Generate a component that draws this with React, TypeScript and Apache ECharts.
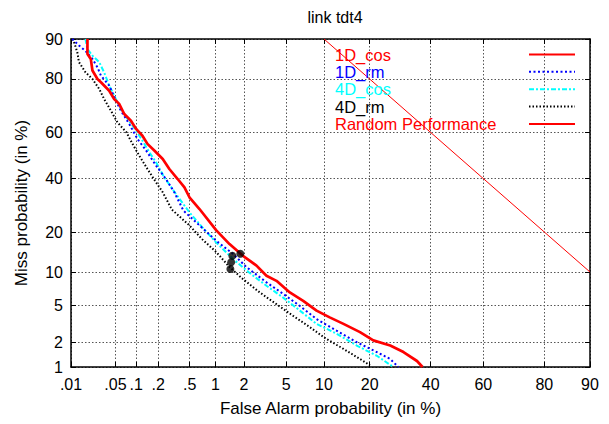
import React, { useEffect, useRef } from 'react';
import * as echarts from 'echarts';

const chartTitle = 'link tdt4';
const xName = 'False Alarm probability (in %)';
const yName = 'Miss probability (in %)';
const xTicks = [0.01, 0.05, 0.1, 0.2, 0.5, 1, 2, 5, 10, 20, 40, 60, 80, 90];
const xTickLabels = ['.01', '.05', '.1', '.2', '.5', '1', '2', '5', '10', '20', '40', '60', '80', '90'];
const yTicks = [1, 2, 5, 10, 20, 40, 60, 80, 90];
const yTickLabels = ['1', '2', '5', '10', '20', '40', '60', '80', '90'];
const xRange = [0.01, 90];
const yRange = [1, 90];

const seriesNames = ['1D_cos', '1D_rm', '4D_cos', '4D_rm', 'Random Performance'];
const seriesColors = ['#ff0000', '#0000ff', '#00ffff', '#000000', '#ff0000'];

// [false alarm %, miss %]
const cos1D: number[][] = [
  [0.0185, 90], [0.0185, 86.8], [0.0209, 85.6], [0.0222, 82.5], [0.0266, 80.0], [0.0301, 79.0],
  [0.0403, 76.2], [0.0478, 73.3], [0.0567, 71.5], [0.0673, 67.6], [0.084, 64.9], [0.0995, 61.5],
  [0.122, 58.6], [0.143, 55.1], [0.177, 52.2], [0.229, 48.5], [0.279, 44.1], [0.356, 39.8],
  [0.432, 36.3], [0.497, 32.3], [0.655, 27.8], [1.02, 20.5], [1.42, 16.5], [1.96, 13.5],
  [2.67, 11.3], [3.32, 9.3], [4.1, 8.4], [5.36, 6.6], [6.92, 5.5], [8.8, 4.4], [11.0, 3.75],
  [13.7, 3.2], [17.5, 2.6], [21.0, 2.1], [26.0, 1.83], [30.3, 1.53], [35.0, 1.19], [37.0, 1.0],
];
const rm1D: number[][] = [
  [0.0105, 90], [0.0135, 88.7], [0.0172, 87.5], [0.0222, 85.6], [0.0266, 83.4], [0.0301, 81.0],
  [0.0403, 77.9], [0.0508, 72.7], [0.06, 68.9], [0.0794, 63.6], [0.104, 57.2], [0.137, 52.2],
  [0.187, 45.6], [0.252, 39.8], [0.323, 34.3], [0.42, 27.2], [0.655, 22.1], [1.02, 17.4],
  [1.54, 14.0], [2.12, 11.0], [3.32, 8.15], [4.7, 6.4], [6.5, 4.9], [8.8, 3.6], [12.3, 2.7],
  [16.7, 2.0], [22.0, 1.53], [26.0, 1.26], [28.6, 1.0],
];
const cos4D: number[][] = [
  [0.0172, 90], [0.0185, 87.9], [0.0222, 86.4], [0.0283, 84.8], [0.0337, 82.0], [0.0403, 77.9],
  [0.0478, 74.5], [0.06, 69.6], [0.0752, 65.6], [0.0995, 60.8], [0.122, 56.5], [0.151, 51.5],
  [0.187, 47.0], [0.24, 40.5], [0.34, 33.5], [0.497, 26.6], [0.7, 21.6], [1.02, 16.9],
  [1.54, 12.8], [2.29, 9.8], [3.32, 7.6], [4.7, 5.9], [6.5, 4.4], [8.8, 3.2], [12.3, 2.5],
  [16.7, 1.83], [22.0, 1.38], [27.0, 1.0],
];
const rm4D: number[][] = [
  [0.0105, 90], [0.0112, 89.4], [0.0127, 87.2], [0.0135, 84.8], [0.0172, 82.0], [0.0222, 80.0],
  [0.0283, 76.8], [0.0337, 73.3], [0.0427, 68.9], [0.0535, 64.2], [0.0723, 60.1], [0.0884, 55.1],
  [0.11, 50.0], [0.143, 44.1], [0.187, 38.4], [0.229, 34.3], [0.3, 27.6], [0.497, 22.1],
  [0.7, 17.9], [1.02, 14.4], [1.42, 11.0], [1.96, 8.7], [2.87, 6.6], [4.1, 5.1], [5.7, 3.9],
  [7.82, 2.95], [10.4, 2.18], [13.7, 1.67], [17.5, 1.26], [20.1, 1.05],
];
const randomPerf: number[][] = [[10, 90], [90, 10]];
const minCostPoints: number[][] = [[1.84, 14.0], [1.52, 13.5], [1.48, 12.0], [1.45, 10.6]];

// inverse standard normal CDF (Acklam)
function probit(p: number): number {
  const a = [-3.969683028665376e1, 2.209460984245205e2, -2.759285104469687e2, 1.38357751867269e2, -3.066479806614716e1, 2.506628277459239];
  const b = [-5.447609879822406e1, 1.615858368580409e2, -1.556989798598866e2, 6.680131188771972e1, -1.328068155288572e1];
  const c = [-7.784894002430293e-3, -3.223964580411365e-1, -2.400758277161838, -2.549732539343734, 4.374664141464968, 2.938163982698783];
  const d = [7.784695709041462e-3, 3.224671290700398e-1, 2.445134137142996, 3.754408661907416];
  const pl = 0.02425;
  let q: number, r: number;
  if (p < pl) {
    q = Math.sqrt(-2 * Math.log(p));
    return (((((c[0] * q + c[1]) * q + c[2]) * q + c[3]) * q + c[4]) * q + c[5]) / ((((d[0] * q + d[1]) * q + d[2]) * q + d[3]) * q + 1);
  }
  if (p <= 1 - pl) {
    q = p - 0.5;
    r = q * q;
    return (((((a[0] * r + a[1]) * r + a[2]) * r + a[3]) * r + a[4]) * r + a[5]) * q / (((((b[0] * r + b[1]) * r + b[2]) * r + b[3]) * r + b[4]) * r + 1);
  }
  q = Math.sqrt(-2 * Math.log(1 - p));
  return -(((((c[0] * q + c[1]) * q + c[2]) * q + c[3]) * q + c[4]) * q + c[5]) / ((((d[0] * q + d[1]) * q + d[2]) * q + d[3]) * q + 1);
}
const pct = (v: number) => probit(v / 100);
const toPlot = (arr: number[][]) => arr.map(([fa, miss]) => [pct(fa), pct(miss)]);

const FONT = 'Liberation Sans, Arial, Helvetica, sans-serif';

function labelFor(ticks: number[], labels: string[]) {
  const pos = ticks.map(pct);
  return (v: number) => {
    let best = 0;
    for (let i = 1; i < pos.length; i++) if (Math.abs(pos[i] - v) < Math.abs(pos[best] - v)) best = i;
    return labels[best];
  };
}

export default function App() {
  const ref = useRef<HTMLDivElement>(null);
  useEffect(() => {
    document.body.style.margin = '0';
    if (!ref.current) return;
    const chart = echarts.init(ref.current, undefined, { renderer: 'svg' });
    const xPos = xTicks.map(pct);
    const yPos = yTicks.map(pct);
    const gridLine = { show: true, lineStyle: { color: '#555', width: 1, type: [1.5, 2] as any } };
    const frame = { show: true, onZero: false, lineStyle: { color: '#000', width: 1.5 } };
    const tick = (vals: number[]) => ({ show: true, inside: true, length: 5, customValues: vals, lineStyle: { color: '#000', width: 1 } });
    const lineStyles: any[] = [
      { color: seriesColors[0], width: 2.7, type: 'solid' },
      { color: seriesColors[1], width: 2, type: [2, 2.5] },
      { color: seriesColors[2], width: 2, type: [5, 2, 2, 2] },
      { color: seriesColors[3], width: 2, type: [1.5, 2] },
      { color: seriesColors[4], width: 1, type: 'solid' },
    ];
    const dataSets = [cos1D, rm1D, cos4D, rm4D, randomPerf];
    const rich: Record<string, any> = {};
    seriesNames.forEach((_, i) => {
      rich['c' + i] = { color: seriesColors[i], align: 'left', fontFamily: FONT, fontSize: 16.5, lineHeight: 15 };
    });
    chart.setOption({
      animation: false,
      backgroundColor: '#fff',
      title: {
        text: chartTitle,
        left: 330,
        textAlign: 'center',
        top: 4,
        textStyle: { fontFamily: FONT, fontSize: 16, fontWeight: 'normal', color: '#000' },
      },
      grid: { left: 71, right: 19, top: 39, bottom: 57, containLabel: false },
      legend: {
        orient: 'vertical',
        left: 330,
        top: 41,
        align: 'right',
        itemWidth: 46,
        itemHeight: 10,
        itemGap: 0.35,
        itemStyle: { opacity: 0, borderWidth: 0 },
        formatter: (name: string) => `{c${seriesNames.indexOf(name)}|${name}}`,
        textStyle: { fontFamily: FONT, fontSize: 16.5, width: 189, lineHeight: 15, rich },
        data: seriesNames,
      },
      xAxis: [
        {
          type: 'value',
          position: 'bottom',
          min: pct(xRange[0]),
          max: pct(xRange[1]),
          name: xName,
          nameLocation: 'middle',
          nameGap: 33,
          nameTextStyle: { fontFamily: FONT, fontSize: 17, color: '#000' },
          axisLine: frame,
          axisTick: tick(xPos),
          axisLabel: { customValues: xPos, formatter: labelFor(xTicks, xTickLabels), margin: 9, fontFamily: FONT, fontSize: 16, color: '#000' },
          splitLine: gridLine,
        },
        {
          type: 'value',
          position: 'top',
          min: pct(xRange[0]),
          max: pct(xRange[1]),
          axisLine: frame,
          axisTick: tick(xPos),
          axisLabel: { show: false },
          splitLine: { show: false },
        },
      ],
      yAxis: [
        {
          type: 'value',
          position: 'left',
          min: pct(yRange[0]),
          max: pct(yRange[1]),
          name: yName,
          nameLocation: 'middle',
          nameGap: 41,
          nameTextStyle: { fontFamily: FONT, fontSize: 17, color: '#000' },
          axisLine: frame,
          axisTick: tick(yPos),
          axisLabel: { customValues: yPos, formatter: labelFor(yTicks, yTickLabels), margin: 8, fontFamily: FONT, fontSize: 16, color: '#000' },
          splitLine: gridLine,
        },
        {
          type: 'value',
          position: 'right',
          min: pct(yRange[0]),
          max: pct(yRange[1]),
          axisLine: frame,
          axisTick: tick(yPos),
          axisLabel: { show: false },
          splitLine: { show: false },
        },
      ],
      series: [
        ...dataSets.map((ds, i) => ({
          name: seriesNames[i],
          type: 'line',
          data: toPlot(ds),
          symbol: 'none',
          showSymbol: false,
          clip: true,
          lineStyle: lineStyles[i],
          itemStyle: { color: seriesColors[i] },
          z: 5 - i,
        })),
        {
          name: 'min cost',
          type: 'scatter',
          data: toPlot(minCostPoints),
          symbol: 'circle',
          symbolSize: 8,
          itemStyle: { color: '#000' },
          z: 10,
        },
      ],
    });
    return () => chart.dispose();
  }, []);
  return <div ref={ref} style={{ width: 609, height: 424 }} />;
}
